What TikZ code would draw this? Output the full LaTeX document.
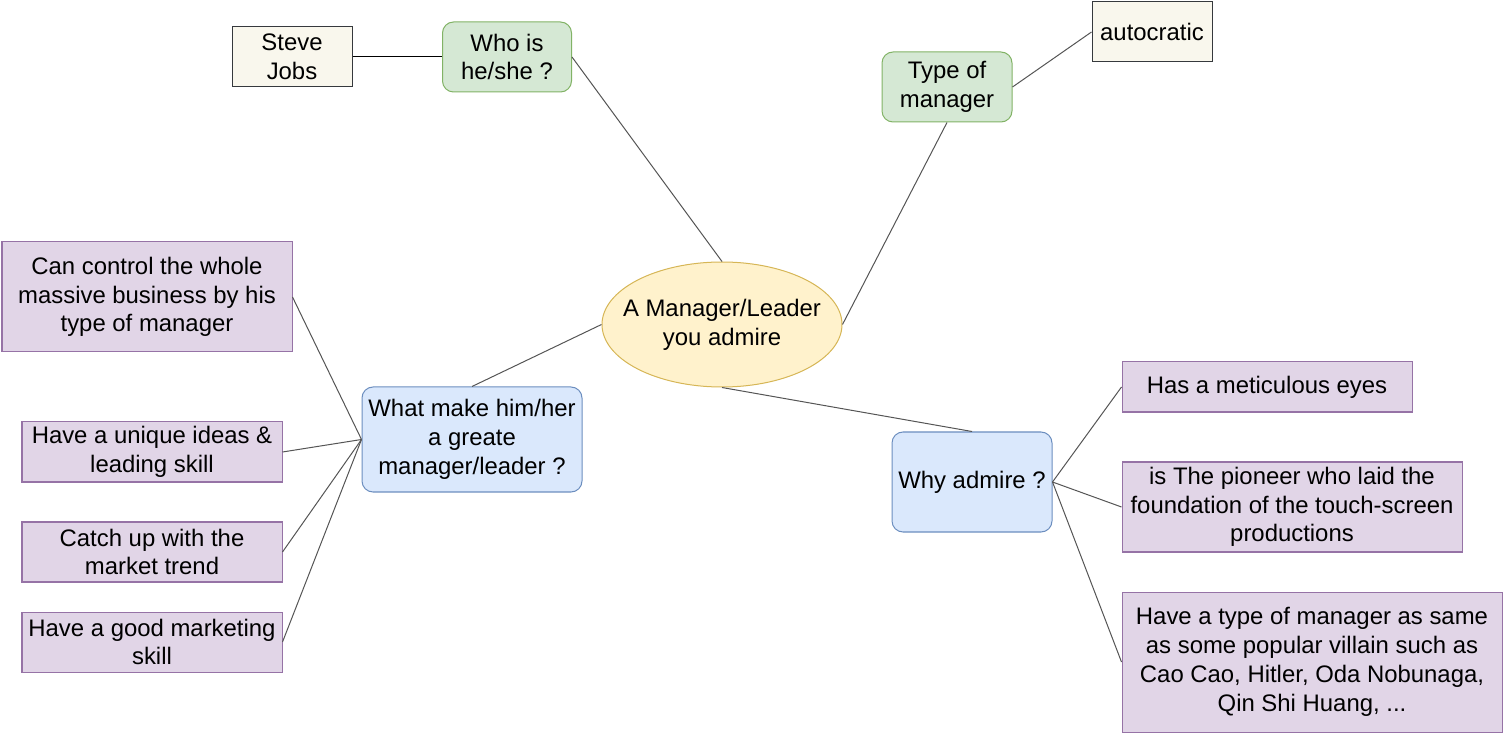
\documentclass[tikz,border=0pt]{standalone}
\usepackage{fontspec}
\setmainfont{Liberation Sans}
\usetikzlibrary{shapes.geometric}
\definecolor{greenfill}{HTML}{D5E8D4}
\definecolor{greenline}{HTML}{82B366}
\definecolor{bluefill}{HTML}{DAE8FC}
\definecolor{blueline}{HTML}{6C8EBF}
\definecolor{violetfill}{HTML}{E1D5E7}
\definecolor{violetline}{HTML}{9673A6}
\definecolor{yellowfill}{HTML}{FFF2CC}
\definecolor{yellowline}{HTML}{D6B656}
\definecolor{notefill}{HTML}{F9F7ED}
\definecolor{noteline}{HTML}{36393D}
\definecolor{linkgray}{HTML}{555555}
\begin{document}
\begin{tikzpicture}[
	every node/.style={font=\fontsize{13.6}{16.4}\selectfont,align=center,inner sep=0pt,line width=0.57pt},
	topic/.style={draw=greenline,fill=greenfill,rounded corners=0.22cm},
	question/.style={draw=blueline,fill=bluefill,rounded corners=0.22cm},
	answer/.style={draw=violetline,fill=violetfill},
	note/.style={draw=noteline,fill=notefill},
	link/.style={draw=linkgray,line width=0.57pt}]
		\useasboundingbox (0,0) rectangle (30.1,-14.7);
		\node[ellipse,draw=yellowline,fill=yellowfill,inner xsep=-0.3cm,minimum width=4.8cm,minimum height=2.5cm](admire) at (14.44,-6.49){A Manager/Leader\\you admire};
		\node[topic,minimum width=2.58cm,minimum height=1.4cm](who) at (10.14,-1.14){Who is\\he/she ?};
		\node[note,minimum width=2.4cm,minimum height=1.2cm](jobs) at (5.84,-1.14){Steve\\Jobs};
		\node[topic,minimum width=2.6cm,minimum height=1.4cm](type) at (18.94,-1.74){Type of\\manager};
		\node[note,minimum width=2.4cm,minimum height=1.2cm](auto) at (23.04,-0.64){autocratic};
		\node[question,minimum width=4.4cm,minimum height=2.1cm](what) at (9.44,-8.79){What make him/her\\a greate\\manager/leader ?};
		\node[question,minimum width=3.2cm,minimum height=2cm](why) at (19.44,-9.64){Why admire ?};
		% left answers
		\node[answer,minimum width=5.8cm,minimum height=2.2cm](control) at (2.94,-5.94){Can control the whole\\massive business by his\\type of manager};
		\node[answer,minimum width=5.2cm,minimum height=1.2cm](unique) at (3.04,-9.04){Have a unique ideas \&\\leading skill};
		\node[answer,minimum width=5.2cm,minimum height=1.2cm,below of=unique,node distance=20mm](trend){Catch up with the\\market trend};
		\node[answer,minimum width=5.2cm,minimum height=1.2cm,below of=trend,node distance=18mm](marketing){Have a good marketing\\skill};
		% right answers
		\node[answer,minimum width=5.8cm,minimum height=1cm](eyes) at (25.34,-7.74){Has a meticulous eyes};
		\node[answer,minimum width=6.8cm,minimum height=1.8cm](pioneer) at (25.84,-10.14){is The pioneer who laid the\\foundation of the touch-screen\\productions};
		\node[answer,minimum width=7.6cm,minimum height=2.8cm](villain) at (26.24,-13.24){Have a type of manager as same\\as some popular villain such as\\Cao Cao, Hitler, Oda Nobunaga,\\Qin Shi Huang, ...};
		\draw[line width=0.57pt] (jobs) -- (who);
		\path[link]
		(who.east) edge (admire.north)
		(type.south) edge (admire.east)
		(type.east) edge (auto.west)
		(admire.west) edge (what.north)
		(admire.south) edge (why.north)
		(what.west) edge (control.east)
		(what.west) edge (unique.east)
		(what.west) edge (trend.east)
		(what.west) edge (marketing.east)
		(why.east) edge (eyes.west)
		(why.east) edge (pioneer.west)
		(why.east) edge (villain.west);
\end{tikzpicture}
\end{document}
